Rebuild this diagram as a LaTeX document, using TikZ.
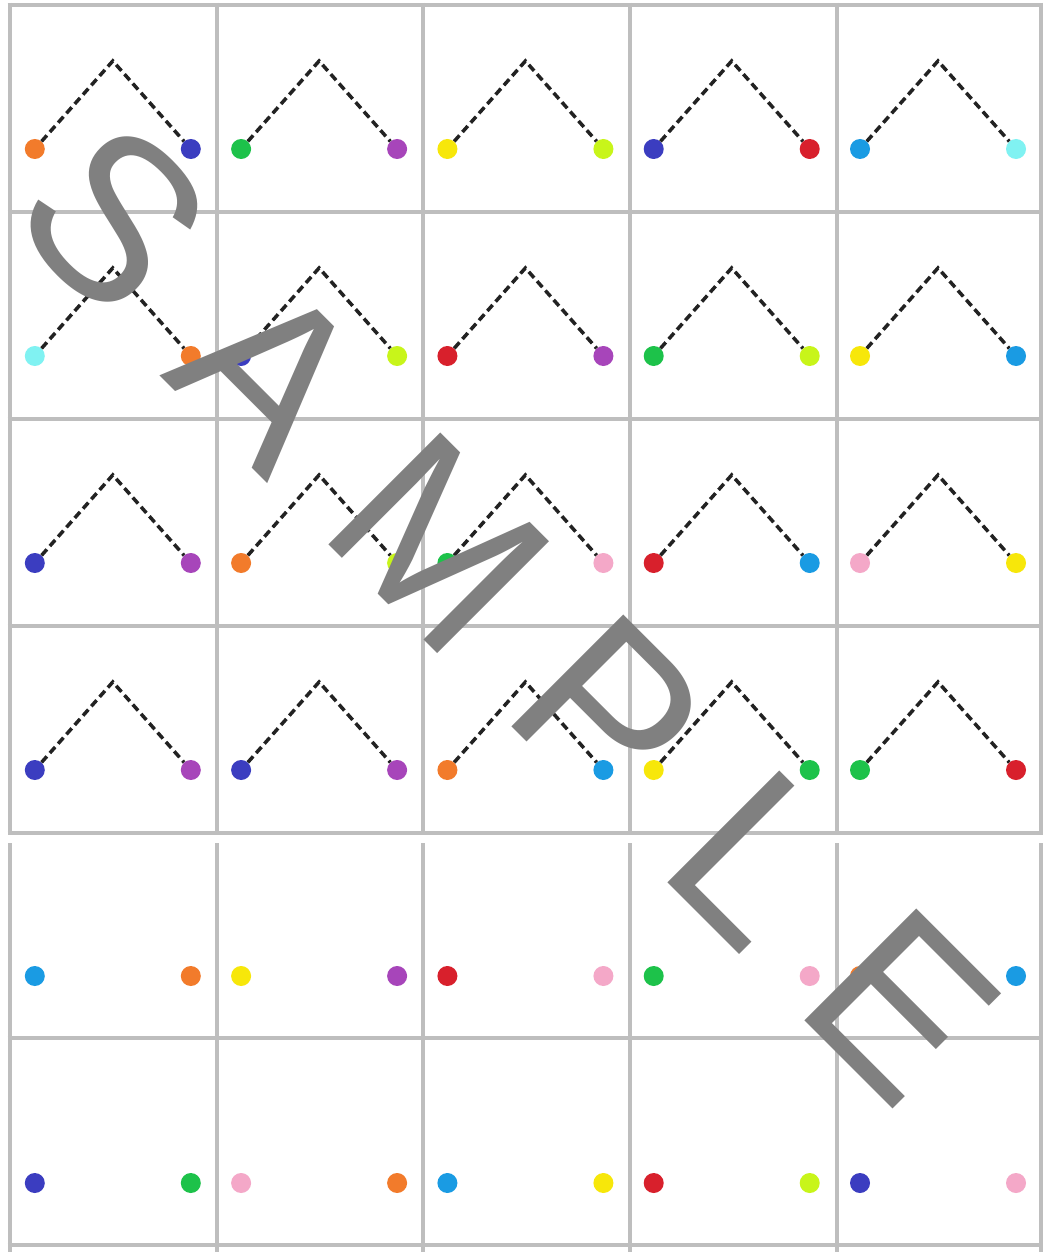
\documentclass[tikz,border=0pt]{standalone}
\usepackage{fontspec}
\setmainfont{Liberation Sans}
\definecolor{gridgray}{HTML}{BEBEBE}
\definecolor{dashblack}{HTML}{222222}
\definecolor{wmgray}{HTML}{808080}
\definecolor{corange}{HTML}{F27B2B}
\definecolor{cblue}{HTML}{3B3DC0}
\definecolor{cgreen}{HTML}{1DC24A}
\definecolor{cpurple}{HTML}{A745BA}
\definecolor{cyellow}{HTML}{F7E70A}
\definecolor{clime}{HTML}{C8F51A}
\definecolor{cred}{HTML}{D8202C}
\definecolor{csky}{HTML}{1A9BE3}
\definecolor{ccyan}{HTML}{80F2F2}
\definecolor{cpink}{HTML}{F4A8C8}
\newcommand\dotrow[3]{%
  \foreach [count=\c] \a/\b in {#3} {
    \pgfmathsetmacro\cx{112.8+206.3*(\c-1)}
    \node[cdot=\a] (L-#1-\c) at (\cx-78,#2) {};
    \node[cdot=\b] (R-#1-\c) at (\cx+78,#2) {};
  }}
\begin{document}
\begin{tikzpicture}[x=1pt,y=-1pt,
  gridline/.style={draw=gridgray,line width=4pt},
  cdot/.style={circle,fill=#1,draw=none,inner sep=0pt,minimum size=20pt},
  chev/.style={draw=dashblack,line width=3.5pt,dash pattern=on 8pt off 4.5pt},
  wm/.style={text=wmgray,font=\fontsize{230}{230}\selectfont,inner sep=0pt,anchor=base,rotate=-45}]
\fill[white] (0,0) rectangle (1048,1252);
\useasboundingbox (0,0) rectangle (1048,1252);
% grid
\foreach \x in {9.5,216.5,423,630,837,1041} {
  \draw[gridline] (\x,3) -- (\x,835);
  \draw[gridline] (\x,843) -- (\x,1252);
}
\foreach \y in {5,212,419,626,833,1038,1245}
  \draw[gridline] (7.5,\y) -- (1043,\y);
% dots
\dotrow{1}{149}{corange/cblue,cgreen/cpurple,cyellow/clime,cblue/cred,csky/ccyan}
\dotrow{2}{356}{ccyan/corange,cblue/clime,cred/cpurple,cgreen/clime,cyellow/csky}
\dotrow{3}{563}{cblue/cpurple,corange/clime,cgreen/cpink,cred/csky,cpink/cyellow}
\dotrow{4}{770}{cblue/cpurple,cblue/cpurple,corange/csky,cyellow/cgreen,cgreen/cred}
\dotrow{5}{976}{csky/corange,cyellow/cpurple,cred/cpink,cgreen/cpink,corange/csky}
\dotrow{6}{1183}{cblue/cgreen,cpink/corange,csky/cyellow,cred/clime,cblue/cpink}
% chevrons
\foreach \r/\y in {1/149,2/356,3/563,4/770}
  \foreach \c in {1,...,5} {
    \pgfmathsetmacro\cx{112.8+206.3*(\c-1)}
    \coordinate (P-\r-\c) at (\cx,\y-88);
    \draw[chev] (L-\r-\c) -- (P-\r-\c) -- (R-\r-\c);
  }
% watermark
\node[wm] (wS) at (58.4,274.0) {S};
\node[wm] (wA) at (213.9,429.5) {A};
\node[wm] (wM) at (383.3,598.9) {M};
\node[wm] (wP) at (552.6,768.2) {P};
\node[wm] (wL) at (699.4,915.0) {L};
\node[wm] (wE) at (846.1,1061.7) {E};
\end{tikzpicture}
\end{document}
